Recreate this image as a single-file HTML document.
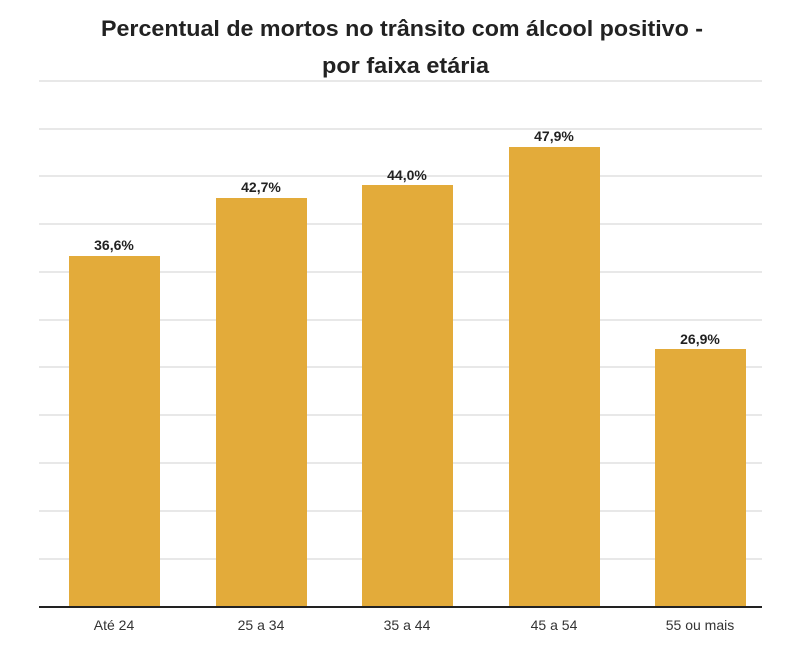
<!DOCTYPE html>
<html><head><meta charset="utf-8"><style>
body{margin:0;background:#fff;width:800px;height:649px;overflow:hidden;font-family:"Liberation Sans",sans-serif}
</style></head><body>
<svg width="800" height="649" xmlns="http://www.w3.org/2000/svg" font-family="Liberation Sans, sans-serif">
<text x="101" y="36" textLength="602" lengthAdjust="spacingAndGlyphs" font-size="22" font-weight="bold" fill="#222">Percentual de mortos no trânsito com álcool positivo -</text>
<text x="322" y="73" textLength="167" lengthAdjust="spacingAndGlyphs" font-size="22" font-weight="bold" fill="#222">por faixa etária</text>
<g stroke="#d9d9d9" stroke-width="1.2">
<line x1="39" x2="762" y1="81" y2="81"/><line x1="39" x2="762" y1="129" y2="129"/><line x1="39" x2="762" y1="176" y2="176"/><line x1="39" x2="762" y1="224" y2="224"/><line x1="39" x2="762" y1="272" y2="272"/><line x1="39" x2="762" y1="320" y2="320"/><line x1="39" x2="762" y1="367" y2="367"/><line x1="39" x2="762" y1="415" y2="415"/><line x1="39" x2="762" y1="463" y2="463"/><line x1="39" x2="762" y1="511" y2="511"/><line x1="39" x2="762" y1="559" y2="559"/>
</g>
<g fill="#E3AB3A">
<rect x="69" y="256" width="91" height="351"/>
<rect x="216" y="198" width="91" height="409"/>
<rect x="362" y="185" width="91" height="422"/>
<rect x="509" y="147" width="91" height="460"/>
<rect x="655" y="349" width="91" height="258"/>
</g>
<line x1="39" x2="762" y1="607" y2="607" stroke="#222" stroke-width="2"/>
<g font-size="14" font-weight="bold" fill="#222" text-anchor="middle">
<text x="114" y="250">36,6%</text><text x="261" y="192">42,7%</text><text x="407" y="180">44,0%</text><text x="554" y="141">47,9%</text><text x="700" y="344">26,9%</text>
</g>
<g font-size="14" fill="#333" text-anchor="middle">
<text x="114" y="630">Até 24</text><text x="261" y="630">25 a 34</text><text x="407" y="630">35 a 44</text><text x="554" y="630">45 a 54</text><text x="700" y="630">55 ou mais</text>
</g>
</svg>
</body></html>
